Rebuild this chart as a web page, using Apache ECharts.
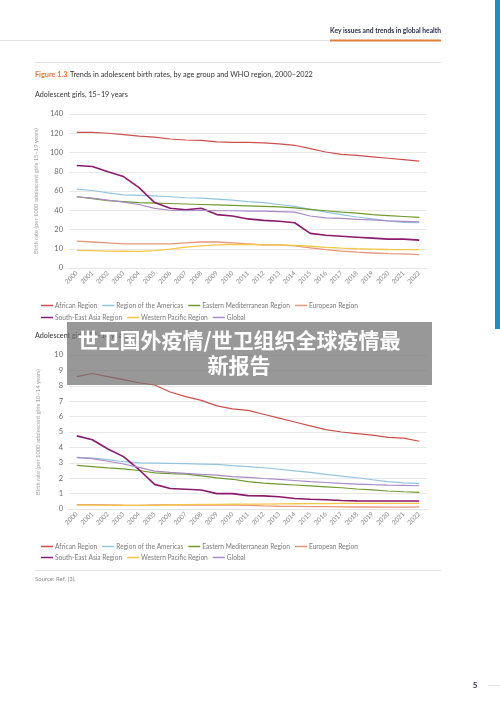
<!DOCTYPE html>
<html>
<head>
<meta charset="utf-8">
<script src="https://cdn.jsdelivr.net/npm/echarts@6/dist/echarts.min.js"></script>
<style>
html, body { margin: 0; padding: 0; background: #fff; }
#page { width: 500px; height: 707px; }
</style>
</head>
<body>
<div id="page"></div>
<script>
// years on the x axis
const years = ['2000', '2001', '2002', '2003', '2004', '2005', '2006', '2007', '2008', '2009', '2010',
  '2011', '2012', '2013', '2014', '2015', '2016', '2017', '2018', '2019', '2020', '2021', '2022']
const regions = ['African Region', 'Region of the Americas', 'Eastern Mediterranean Region', 'European Region',
  'South-East Asia Region', 'Western Pacific Region', 'Global']

// tick labels (the 15-19 chart has unevenly spaced ticks, drawn evenly)
const ticks15 = [0, 10, 20, 40, 60, 80, 100, 120, 140]
const ticks10 = [0, 1, 2, 3, 4, 5, 6, 7, 8, 9, 10]

// girls 15-19
const african15 = [121, 121, 120, 118.5, 117, 116, 114, 113, 112.5, 111, 110.5, 110.5, 110, 109, 107.5, 104, 100.5, 98, 97, 95.5, 94, 92.5, 91]
const americas15 = [62, 60.5, 58, 56, 55.5, 55, 54, 53, 52.5, 51.5, 50.5, 49, 48, 46, 44, 41, 38, 35.5, 33, 31, 29, 27.5, 27]
const emr15 = [54, 52, 50, 49, 48, 47.5, 47, 46.5, 46, 45.5, 45, 44.5, 44, 43.5, 42.5, 41, 39.5, 38, 37, 35.5, 34.5, 33.5, 32.5]
const euro15 = [14, 13.5, 13, 12.5, 12.5, 12.5, 12.5, 13, 13.5, 13.5, 13, 12.5, 12, 12, 11.5, 10.5, 9.5, 8.8, 8.2, 7.8, 7.5, 7.3, 7]
const sea15 = [86.5, 85.5, 80, 75, 63.5, 48, 42, 40.5, 42, 35.5, 34, 31, 29.5, 28.5, 27, 18, 17, 16.5, 16, 15.5, 15, 15, 14.5]
const wpr15 = [9.2, 9, 8.8, 8.7, 8.6, 9, 9.8, 10.8, 11.5, 12, 12.2, 12.2, 12, 12, 11.8, 11.3, 10.7, 10.3, 10, 9.8, 9.6, 9.5, 9.5]
const global15 = [54, 52.5, 50.5, 48.5, 46, 42, 40, 39.5, 40, 39.5, 39.5, 39, 39, 38.5, 38, 34, 32, 31.5, 30.5, 30, 29, 28.5, 28]

// girls 10-14
const african10 = [8.6, 8.8, 8.6, 8.4, 8.2, 8.05, 7.6, 7.3, 7.05, 6.7, 6.5, 6.4, 6.15, 5.9, 5.65, 5.4, 5.15, 5.0, 4.9, 4.8, 4.65, 4.6, 4.4]
const americas10 = [3.35, 3.3, 3.2, 3.07, 3.0, 2.98, 2.96, 2.94, 2.92, 2.9, 2.82, 2.75, 2.68, 2.58, 2.48, 2.38, 2.25, 2.14, 2.03, 1.9, 1.78, 1.7, 1.66]
const emr10 = [2.83, 2.75, 2.67, 2.6, 2.5, 2.35, 2.3, 2.27, 2.15, 2.02, 1.93, 1.78, 1.68, 1.62, 1.56, 1.5, 1.44, 1.38, 1.3, 1.24, 1.17, 1.12, 1.08]
const euro10 = [0.28, 0.28, 0.27, 0.25, 0.24, 0.27, 0.27, 0.26, 0.26, 0.25, 0.25, 0.24, 0.2, 0.18, 0.17, 0.16, 0.15, 0.14, 0.13, 0.13, 0.12, 0.12, 0.14]
const sea10 = [4.75, 4.5, 3.9, 3.4, 2.55, 1.6, 1.33, 1.28, 1.23, 1.0, 1.0, 0.87, 0.85, 0.8, 0.68, 0.63, 0.6, 0.55, 0.53, 0.52, 0.52, 0.52, 0.52]
const wpr10 = [0.25, 0.25, 0.24, 0.23, 0.23, 0.24, 0.26, 0.28, 0.3, 0.3, 0.31, 0.32, 0.32, 0.33, 0.34, 0.35, 0.35, 0.36, 0.36, 0.36, 0.36, 0.36, 0.36]
const global10 = [3.33, 3.27, 3.1, 2.92, 2.7, 2.46, 2.38, 2.31, 2.25, 2.2, 2.1, 2.05, 1.98, 1.92, 1.85, 1.78, 1.72, 1.66, 1.62, 1.58, 1.55, 1.53, 1.51]

const data15 = [african15, americas15, emr15, euro15, sea15, wpr15, global15]
const data10 = [african10, americas10, emr10, euro10, sea10, wpr10, global10]

const colors = ['#cc4f4c', '#92c4e2', '#6f9a2c', '#e8977a', '#8a1a6c', '#f4c64a', '#a98ac6']
const widths = [1.2, 1.2, 1.2, 1.3, 1.6, 1.3, 1.2]
const font = 'Lato, "Open Sans", sans-serif'

// map a value onto the evenly drawn tick positions
function tickPos (ticks, v) {
  for (let i = 0; i < ticks.length - 1; i++) {
    if (v <= ticks[i + 1]) return i + (v - ticks[i]) / (ticks[i + 1] - ticks[i])
  }
  return ticks.length - 1
}

const myChart = echarts.init(document.getElementById('page'))

function xAxis (gridIndex) {
  return {
    type: 'category',
    gridIndex: gridIndex,
    data: years,
    boundaryGap: true,
    axisLine: { lineStyle: { color: '#e4e4e4' } },
    axisTick: { show: false },
    axisLabel: { rotate: 45, interval: 0, fontSize: 6.5, color: '#8a8a8a', margin: 4, fontFamily: font }
  }
}

function yAxis (gridIndex, ticks, name) {
  return {
    type: 'value',
    gridIndex: gridIndex,
    min: 0,
    max: ticks.length - 1,
    interval: 1,
    name: name,
    nameLocation: 'middle',
    nameRotate: 90,
    nameGap: 28,
    nameTextStyle: { fontSize: 5.8, color: '#a0a0a0', fontFamily: font },
    axisLabel: {
      fontSize: 7.5,
      color: '#6a6a6a',
      margin: 6,
      fontFamily: font,
      formatter: function (val) { return ticks[Math.round(val)] }
    },
    splitLine: { lineStyle: { color: '#e8e8e8', width: 1 } }
  }
}

const series = []
regions.forEach(function (name, i) {
  series.push({
    name: name,
    type: 'line',
    xAxisIndex: 0,
    yAxisIndex: 0,
    symbol: 'none',
    data: data15[i].map(function (v) { return tickPos(ticks15, v) }),
    lineStyle: { color: colors[i], width: widths[i] },
    itemStyle: { color: colors[i] }
  })
  series.push({
    name: name,
    type: 'line',
    xAxisIndex: 1,
    yAxisIndex: 1,
    symbol: 'none',
    data: data10[i].map(function (v) { return tickPos(ticks10, v) }),
    lineStyle: { color: colors[i], width: widths[i] },
    itemStyle: { color: colors[i] }
  })
})

function legend (names, top) {
  return {
    data: names,
    left: 36,
    top: top,
    icon: 'rect',
    itemWidth: 12,
    itemHeight: 1.5,
    itemGap: 5,
    selectedMode: false,
    textStyle: { fontSize: 6.6, color: '#7a7a7a', fontFamily: font, padding: [0, 0, 0, -3] }
  }
}

function text (x, y, str, size, color, weight, align) {
  return {
    type: 'text',
    x: x,
    y: y,
    style: {
      text: str,
      fontSize: size,
      fill: color,
      fontWeight: weight || 'normal',
      fontFamily: font,
      textAlign: align || 'left',
      textVerticalAlign: 'middle'
    }
  }
}

function hline (x1, x2, y, color, w) {
  return { type: 'line', shape: { x1: x1, y1: y, x2: x2, y2: y }, style: { stroke: color, lineWidth: w } }
}

const option = {
  animation: false,
  backgroundColor: '#ffffff',
  grid: [
    { left: 69, right: 73, top: 114, height: 154 },
    { left: 69, right: 73, top: 355, height: 154 }
  ],
  xAxis: [xAxis(0), xAxis(1)],
  yAxis: [
    yAxis(0, ticks15, 'Birth rate (per 1000 adolescent girls 15–19 years)'),
    yAxis(1, ticks10, 'Birth rate (per 1000 adolescent girls 10–14 years)')
  ],
  legend: [
    legend(regions.slice(0, 4), 297),
    legend(regions.slice(4), 309),
    legend(regions.slice(0, 4), 538),
    legend(regions.slice(4), 549)
  ],
  series: series,
  graphic: [
    // blue edge bar
    { type: 'rect', shape: { x: 495, y: 0, width: 5, height: 329 }, style: { fill: '#0f94d2' } },
    hline(0, 330, 40.5, '#e2e2e2', 1),
    hline(330, 441, 40.5, '#e07b39', 2),
    text(441, 31, 'Key issues and trends in global health', 6.7, '#2c2c4e', 'bold', 'right'),
    hline(35, 441, 62.5, '#e2e2e2', 1),
    text(35, 75, 'Figure 1.3', 7.3, '#e07b39', 'bold'),
    text(70, 75, 'Trends in adolescent birth rates, by age group and WHO region, 2000–2022', 7.3, '#333333'),
    text(35, 95, 'Adolescent girls, 15–19 years', 7.2, '#333333'),
    text(35, 336, 'Adolescent girls, 10–14 years', 7.2, '#333333'),
    hline(35, 441, 570.5, '#e2e2e2', 1),
    text(35, 579, 'Source: Ref. (3).', 6, '#8a8a8a'),
    text(475, 685, '5', 8, '#2c2c4e', 'bold', 'center'),
    hline(488, 500, 685.5, '#dcdcdc', 0.8),
    // grey title banner
    {
      type: 'rect',
      z: 100,
      shape: { x: 67, y: 322, width: 365, height: 63 },
      style: { fill: 'rgba(112,112,112,0.72)' }
    },
    {
      type: 'text',
      z: 101,
      x: 239,
      y: 353,
      style: {
        text: '世卫国外疫情/世卫组织全球疫情最\n新报告',
        fontSize: 21,
        lineHeight: 25,
        fontWeight: 'bold',
        fill: '#ffffff',
        fontFamily: '"Noto Sans CJK SC", sans-serif',
        textAlign: 'center',
        textVerticalAlign: 'middle'
      }
    }
  ]
}

myChart.setOption(option)
window.addEventListener('resize', function () {
  myChart.resize()
})
</script>
</body>
</html>
